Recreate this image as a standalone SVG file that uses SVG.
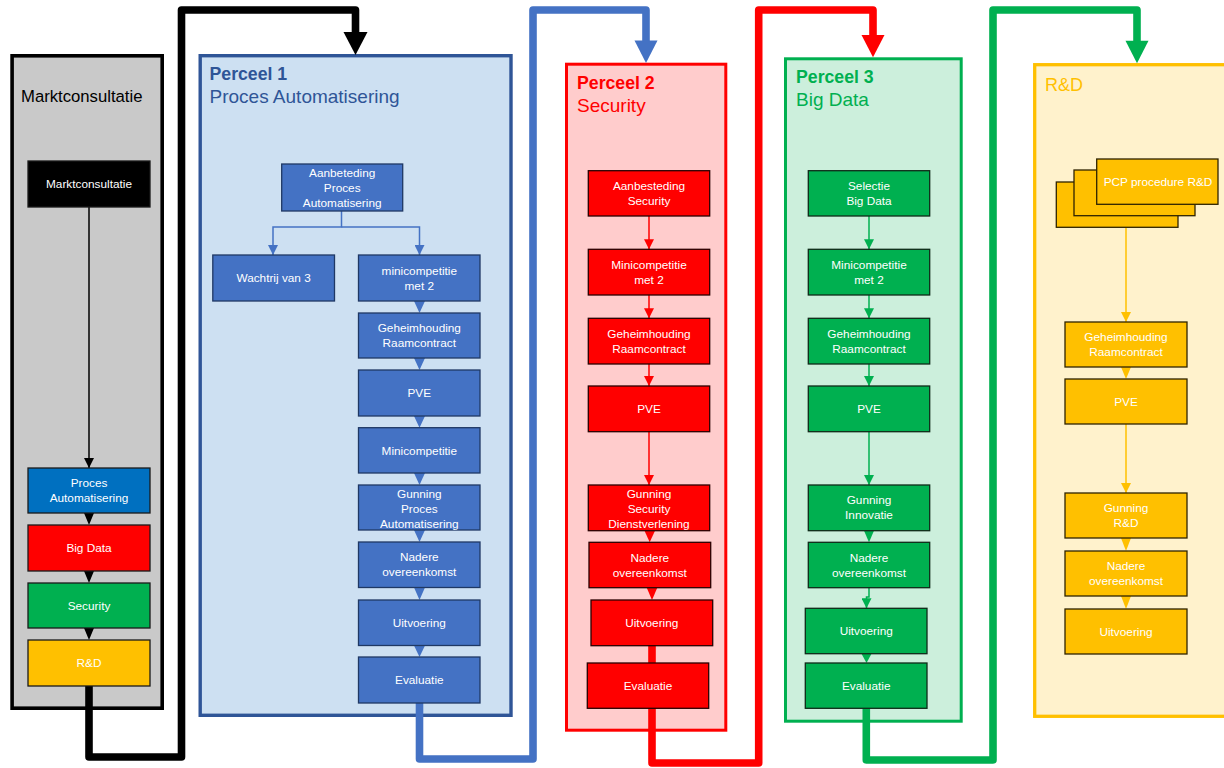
<svg xmlns="http://www.w3.org/2000/svg" width="1224" height="768" viewBox="0 0 1224 768">
<style>
text{font-family:"Liberation Sans",Arial,sans-serif}
.nt{font-size:11.8px;fill:#ffffff;text-anchor:middle}
.bl{fill:#4472c4;stroke:#1f3864;stroke-width:1.3}
.rd{fill:#ff0000;stroke:#2a0000;stroke-width:1.3}
.gr{fill:#00b050;stroke:#0e2a18;stroke-width:1.3}
.ye{fill:#ffc000;stroke:#2e2300;stroke-width:1.3}
.mk{stroke:#1a1a1a;stroke-width:1.3}
.tb{font-size:17.7px;font-weight:bold}
.ts{font-size:19px}
.thick{fill:none;stroke-width:7.6;stroke-linejoin:round}
.thin{fill:none;stroke-width:1.5}
</style>
<defs>
<marker id="aK" viewBox="0 0 10 10" refX="10" refY="5" markerWidth="10" markerHeight="10" markerUnits="userSpaceOnUse" orient="auto"><path d="M0,0 L10,5 L0,10 z" fill="#000"/></marker>
<marker id="aB" viewBox="0 0 10 10" refX="10" refY="5" markerWidth="10" markerHeight="10" markerUnits="userSpaceOnUse" orient="auto"><path d="M0,0 L10,5 L0,10 z" fill="#4472c4"/></marker>
<marker id="aR" viewBox="0 0 10 10" refX="10" refY="5" markerWidth="10" markerHeight="10" markerUnits="userSpaceOnUse" orient="auto"><path d="M0,0 L10,5 L0,10 z" fill="#ff0000"/></marker>
<marker id="aG" viewBox="0 0 10 10" refX="10" refY="5" markerWidth="10" markerHeight="10" markerUnits="userSpaceOnUse" orient="auto"><path d="M0,0 L10,5 L0,10 z" fill="#00b050"/></marker>
<marker id="aY" viewBox="0 0 10 10" refX="10" refY="5" markerWidth="10" markerHeight="10" markerUnits="userSpaceOnUse" orient="auto"><path d="M0,0 L10,5 L0,10 z" fill="#ffc000"/></marker>
</defs>
<rect x="0" y="0" width="1224" height="768" fill="#ffffff"/>

<!-- containers -->
<g id="c-markt">
<rect x="12.1" y="55.8" width="150.1" height="652.4" fill="#c9c9c9" stroke="#000" stroke-width="3.6"/>
<text x="21" y="102" font-size="16.7" fill="#000">Marktconsultatie</text>
</g>
<g id="c-perceel1">
<rect x="200.2" y="55.7" width="310.8" height="659.6" fill="#cde0f2" stroke="#2f5597" stroke-width="3.4"/>
<text x="209.5" y="80" class="tb" fill="#2f5597">Perceel 1</text>
<text x="209.5" y="103" class="ts" fill="#2f5597">Proces Automatisering</text>
</g>
<g id="c-perceel2">
<rect x="566.5" y="64.2" width="159.3" height="666" fill="#ffcccc" stroke="#ff0000" stroke-width="3"/>
<text x="577" y="89" class="tb" fill="#ff0000">Perceel 2</text>
<text x="577" y="112" class="ts" fill="#ff0000">Security</text>
</g>
<g id="c-perceel3">
<rect x="785.5" y="58.8" width="175.7" height="662.4" fill="#ccefdc" stroke="#00b050" stroke-width="3"/>
<text x="796" y="83" class="tb" fill="#00b050">Perceel 3</text>
<text x="796" y="106" class="ts" fill="#00b050">Big Data</text>
</g>
<g id="c-rd">
<rect x="1034.7" y="64.7" width="200" height="651.6" fill="#fff2cc" stroke="#ffc000" stroke-width="3.3"/>
<text x="1045" y="91" font-size="18" fill="#ffc000">R&amp;D</text>
</g>

<!-- connectors -->
<g id="connectors">
<path class="thick" stroke="#000" stroke-width="8" d="M89,686 V757 H181.5 V10 H355.5 V34"/>
<polygon points="343.5,32 367.5,32 355.5,55" fill="#000"/>
<path class="thick" stroke="#4472c4" d="M419.5,703 V759 H533 V10 H646 V42"/>
<polygon points="634.5,40.5 657.5,40.5 646,63" fill="#4472c4"/>
<path class="thick" stroke="#ff0000" d="M652,645 V763 H758.7 V10 H873 V37"/>
<polygon points="861.5,35 884.5,35 873,57.3" fill="#ff0000"/>
<path class="thick" stroke="#00b050" d="M866.3,708 V760 H993 V10 H1137 V42"/>
<polygon points="1125.5,40.7 1148.5,40.7 1137,63.3" fill="#00b050"/>

<path class="thin" stroke="#000" stroke-width="1.3" d="M89,207 V468" marker-end="url(#aK)"/>
<polygon points="84,513 94,513 89,525" fill="#000"/>
<polygon points="84,571 94,571 89,583" fill="#000"/>
<polygon points="84,628 94,628 89,640" fill="#000"/>

<path class="thin" stroke="#4472c4" d="M341.5,211 V227 H273 V255" marker-end="url(#aB)"/>
<path class="thin" stroke="#4472c4" d="M341.5,227 H419.5 V255" marker-end="url(#aB)"/>
<polygon points="414,301 425,301 419.5,313" fill="#4472c4"/>
<polygon points="414,358 425,358 419.5,370" fill="#4472c4"/>
<polygon points="414,416 425,416 419.5,427.7" fill="#4472c4"/>
<polygon points="414,473 425,473 419.5,485" fill="#4472c4"/>
<polygon points="414,530 425,530 419.5,542" fill="#4472c4"/>
<polygon points="414,587.5 425,587.5 419.5,600" fill="#4472c4"/>
<polygon points="414,645.5 425,645.5 419.5,657" fill="#4472c4"/>

<path class="thin" stroke="#ff0000" d="M649,216 V249.3" marker-end="url(#aR)"/>
<path class="thin" stroke="#ff0000" d="M649,295 V318.3" marker-end="url(#aR)"/>
<path class="thin" stroke="#ff0000" d="M649,364 V386" marker-end="url(#aR)"/>
<path class="thin" stroke="#ff0000" d="M649,431.7 V485" marker-end="url(#aR)"/>
<polygon points="644.5,530.7 655,530.7 649.7,542.3" fill="#ff0000"/>
<polygon points="646.7,587.7 657.3,587.7 652,600" fill="#ff0000"/>

<path class="thin" stroke="#00b050" d="M869,216 V249.3" marker-end="url(#aG)"/>
<path class="thin" stroke="#00b050" d="M869,295 V318.3" marker-end="url(#aG)"/>
<path class="thin" stroke="#00b050" d="M869,364 V386" marker-end="url(#aG)"/>
<path class="thin" stroke="#00b050" d="M869,431.7 V485" marker-end="url(#aG)"/>
<polygon points="864,530.7 874,530.7 869,542.3" fill="#00b050"/>
<path class="thin" stroke="#00b050" d="M869,587.7 V597 H866.5 V608.3" marker-end="url(#aG)"/>
<polygon points="861.5,653.7 871.5,653.7 866.5,663" fill="#00b050"/>

<path class="thin" stroke="#ffc000" d="M1126,227.3 V322" marker-end="url(#aY)"/>
<polygon points="1121,367 1131,367 1126,379" fill="#ffc000"/>
<path class="thin" stroke="#ffc000" d="M1126,424 V493" marker-end="url(#aY)"/>
<polygon points="1121,538 1131,538 1126,551" fill="#ffc000"/>
<polygon points="1121,596 1131,596 1126,609" fill="#ffc000"/>
</g>

<!-- Marktconsultatie nodes -->
<g id="m-marktconsultatie"><rect x="28" y="161" width="122" height="46" fill="#000" class="mk"/><text class="nt" x="89" y="188">Marktconsultatie</text></g>
<g id="m-proces"><rect x="28" y="468" width="122" height="45" fill="#0070c0" class="mk"/><text class="nt" x="89" y="487">Proces</text><text class="nt" x="89" y="502">Automatisering</text></g>
<g id="m-bigdata"><rect x="28" y="525" width="122" height="46" fill="#ff0000" class="mk"/><text class="nt" x="89" y="552">Big Data</text></g>
<g id="m-security"><rect x="28" y="583" width="122" height="45" fill="#00b050" class="mk"/><text class="nt" x="89" y="609.5">Security</text></g>
<g id="m-rd"><rect x="28" y="640" width="122" height="46" fill="#ffc000" class="mk"/><text class="nt" x="89" y="667">R&amp;D</text></g>

<!-- Perceel 1 nodes -->
<g id="p1-aanbesteding"><rect class="bl" x="281.7" y="164" width="121" height="47"/><text class="nt" x="342.2" y="176.5">Aanbeteding</text><text class="nt" x="342.2" y="191.5">Proces</text><text class="nt" x="342.2" y="206.5">Automatisering</text></g>
<g id="p1-wachtrij"><rect class="bl" x="212.8" y="255" width="121.7" height="46"/><text class="nt" x="273.6" y="282">Wachtrij van 3</text></g>
<g id="p1-minicompetitie2"><rect class="bl" x="358.5" y="255" width="121.5" height="46"/><text class="nt" x="419.3" y="274.5">minicompetitie</text><text class="nt" x="419.3" y="289.5">met 2</text></g>
<g id="p1-geheimhouding"><rect class="bl" x="358.5" y="313" width="121.5" height="45"/><text class="nt" x="419.3" y="332">Geheimhouding</text><text class="nt" x="419.3" y="347">Raamcontract</text></g>
<g id="p1-pve"><rect class="bl" x="358.5" y="370" width="121.5" height="46"/><text class="nt" x="419.3" y="397">PVE</text></g>
<g id="p1-minicompetitie"><rect class="bl" x="358.5" y="427.7" width="121.5" height="45.3"/><text class="nt" x="419.3" y="454.5">Minicompetitie</text></g>
<g id="p1-gunning"><rect class="bl" x="358.5" y="485" width="121.5" height="45"/><text class="nt" x="419.3" y="497.5">Gunning</text><text class="nt" x="419.3" y="512.5">Proces</text><text class="nt" x="419.3" y="528">Automatisering</text></g>
<g id="p1-nadere"><rect class="bl" x="358.5" y="542" width="121.5" height="45.5"/><text class="nt" x="419.3" y="561">Nadere</text><text class="nt" x="419.3" y="576">overeenkomst</text></g>
<g id="p1-uitvoering"><rect class="bl" x="358.5" y="600" width="121.5" height="45.5"/><text class="nt" x="419.3" y="627">Uitvoering</text></g>
<g id="p1-evaluatie"><rect class="bl" x="358.5" y="657" width="121.5" height="46"/><text class="nt" x="419.3" y="684">Evaluatie</text></g>

<!-- Perceel 2 nodes -->
<g id="p2-aanbesteding"><rect class="rd" x="588.3" y="170.7" width="121.4" height="45.3"/><text class="nt" x="649" y="189.8">Aanbesteding</text><text class="nt" x="649" y="204.8">Security</text></g>
<g id="p2-minicompetitie"><rect class="rd" x="588.3" y="249.3" width="121.4" height="45.7"/><text class="nt" x="649" y="268.6">Minicompetitie</text><text class="nt" x="649" y="283.6">met 2</text></g>
<g id="p2-geheimhouding"><rect class="rd" x="588.3" y="318.3" width="121.4" height="45.7"/><text class="nt" x="649" y="337.6">Geheimhouding</text><text class="nt" x="649" y="352.6">Raamcontract</text></g>
<g id="p2-pve"><rect class="rd" x="588.3" y="386" width="121.4" height="45.7"/><text class="nt" x="649" y="412.8">PVE</text></g>
<g id="p2-gunning"><rect class="rd" x="588.3" y="485" width="121.4" height="45.7"/><text class="nt" x="649" y="497.5">Gunning</text><text class="nt" x="649" y="512.5">Security</text><text class="nt" x="649" y="528">Dienstverlening</text></g>
<g id="p2-nadere"><rect class="rd" x="589" y="542.3" width="121.7" height="45.4"/><text class="nt" x="649.8" y="561.5">Nadere</text><text class="nt" x="649.8" y="576.5">overeenkomst</text></g>
<g id="p2-uitvoering"><rect class="rd" x="591" y="600" width="121.7" height="45.7"/><text class="nt" x="651.8" y="627">Uitvoering</text></g>
<g id="p2-evaluatie"><rect class="rd" x="587.3" y="663" width="121.4" height="45.3"/><text class="nt" x="648" y="689.7">Evaluatie</text></g>

<!-- Perceel 3 nodes -->
<g id="p3-selectie"><rect class="gr" x="808.3" y="170.7" width="121.4" height="45.3"/><text class="nt" x="869" y="189.8">Selectie</text><text class="nt" x="869" y="204.8">Big Data</text></g>
<g id="p3-minicompetitie"><rect class="gr" x="808.3" y="249.3" width="121.4" height="45.7"/><text class="nt" x="869" y="268.6">Minicompetitie</text><text class="nt" x="869" y="283.6">met 2</text></g>
<g id="p3-geheimhouding"><rect class="gr" x="808.3" y="318.3" width="121.4" height="45.7"/><text class="nt" x="869" y="337.6">Geheimhouding</text><text class="nt" x="869" y="352.6">Raamcontract</text></g>
<g id="p3-pve"><rect class="gr" x="808.3" y="386" width="121.4" height="45.7"/><text class="nt" x="869" y="412.8">PVE</text></g>
<g id="p3-gunning"><rect class="gr" x="808.3" y="485" width="121.4" height="45.7"/><text class="nt" x="869" y="504.3">Gunning</text><text class="nt" x="869" y="519.3">Innovatie</text></g>
<g id="p3-nadere"><rect class="gr" x="808.3" y="542.3" width="121.4" height="45.4"/><text class="nt" x="869" y="561.5">Nadere</text><text class="nt" x="869" y="576.5">overeenkomst</text></g>
<g id="p3-uitvoering"><rect class="gr" x="805.3" y="608.3" width="121.7" height="45.4"/><text class="nt" x="866.2" y="635">Uitvoering</text></g>
<g id="p3-evaluatie"><rect class="gr" x="805.3" y="663" width="121.7" height="45.3"/><text class="nt" x="866.2" y="689.7">Evaluatie</text></g>

<!-- R&D nodes -->
<g id="rd-pcp"><rect class="ye" x="1056.3" y="182" width="121.7" height="45.3"/><rect class="ye" x="1074" y="170" width="121" height="45.7"/><rect class="ye" x="1096.7" y="159" width="121.3" height="45.3"/><text class="nt" x="1158" y="185.7">PCP procedure R&amp;D</text></g>
<g id="rd-geheimhouding"><rect class="ye" x="1065" y="322" width="122" height="45"/><text class="nt" x="1126" y="341">Geheimhouding</text><text class="nt" x="1126" y="356">Raamcontract</text></g>
<g id="rd-pve"><rect class="ye" x="1065" y="379" width="122" height="45"/><text class="nt" x="1126" y="405.5">PVE</text></g>
<g id="rd-gunning"><rect class="ye" x="1065" y="493" width="122" height="45"/><text class="nt" x="1126" y="512">Gunning</text><text class="nt" x="1126" y="527">R&amp;D</text></g>
<g id="rd-nadere"><rect class="ye" x="1065" y="551" width="122" height="45"/><text class="nt" x="1126" y="570">Nadere</text><text class="nt" x="1126" y="585">overeenkomst</text></g>
<g id="rd-uitvoering"><rect class="ye" x="1065" y="609" width="122" height="45"/><text class="nt" x="1126" y="635.5">Uitvoering</text></g>
</svg>
